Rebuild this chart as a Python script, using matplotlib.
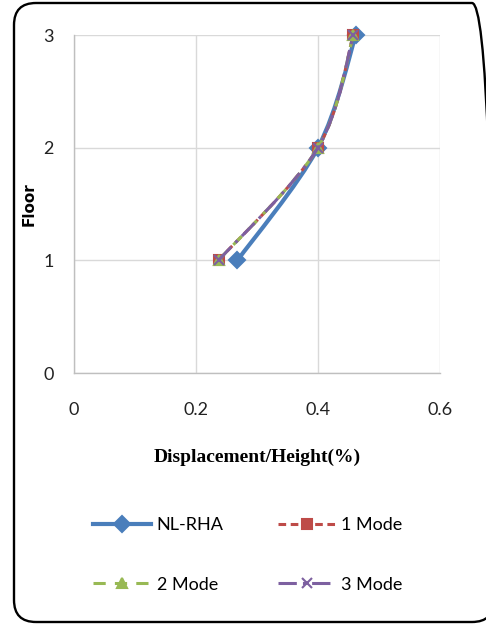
import matplotlib.pyplot as plt
import numpy as np
from matplotlib.path import Path
from matplotlib.patches import PathPatch, FancyBboxPatch
from matplotlib.lines import Line2D

# storey drift profiles, displacement/height (%) per floor
floors = [1, 2, 3]
nl_rha = [0.268, 0.400, 0.462]
mode1 = [0.237, 0.400, 0.458]
mode2 = [0.237, 0.400, 0.458]
mode3 = [0.237, 0.400, 0.458]

xticks = [0, 0.2, 0.4, 0.6]
yticks = [0, 1, 2, 3]

tickfont = 'Lato'


def smooth_path(xs, ys):
    # Catmull-Rom style cubic bezier through the points
    pts = np.column_stack([xs, ys])
    n = len(pts)
    verts = [pts[0]]
    codes = [Path.MOVETO]
    for i in range(n - 1):
        p0 = pts[max(i - 1, 0)]
        p1 = pts[i]
        p2 = pts[i + 1]
        p3 = pts[min(i + 2, n - 1)]
        c1 = p1 + (p2 - p0) / 6.0
        c2 = p2 - (p3 - p1) / 6.0
        verts += [c1, c2, p2]
        codes += [Path.CURVE4] * 3
    return Path(verts, codes)


fig = plt.figure(figsize=(4.86, 6.25), dpi=100)

# rounded frame round the whole chart (inch units), right side runs off the edge
frame = FancyBboxPatch((0.14, 0.03), 4.80, 6.19,
                       boxstyle='round,pad=0,rounding_size=0.22',
                       transform=fig.dpi_scale_trans, fill=False,
                       edgecolor='black', linewidth=1.7, clip_on=False)
fig.patches.append(frame)

ax = fig.add_axes([74 / 486, 1 - 373 / 625, 366 / 486, 338 / 625])

series = [
    (nl_rha, 'NL-RHA', '#4A7EBB', '-', 'D', 8.5, 3.0),
    (mode1, '1 Mode', '#BE4B48', (0, (2.5, 1.5)), 's', 7.5, 2.2),
    (mode2, '2 Mode', '#98B954', (0, (4, 3)), '^', 7.5, 2.2),
    (mode3, '3 Mode', '#7D60A0', (0, (6, 2, 1, 2)), 'x', 6.5, 2.2),
]

handles = {}
for i, (xs, label, col, ls, mk, ms, lw) in enumerate(series):
    patch = PathPatch(smooth_path(xs, floors), facecolor='none', edgecolor=col,
                      linewidth=lw, linestyle=ls, zorder=3 + i, capstyle='butt',
                      clip_on=False)
    ax.add_patch(patch)
    ax.plot(xs, floors, linestyle='None', marker=mk, markersize=ms,
            color=col, markeredgecolor=col, markeredgewidth=1.5, zorder=3 + i,
            clip_on=False)
    handles[label] = Line2D([], [], color=col, linestyle=ls, linewidth=lw,
                            marker=mk, markersize=ms, markeredgewidth=1.5,
                            label=label)

ax.set_xlim(0, 0.6)
ax.set_ylim(0, 3)
ax.set_xticks(xticks)
ax.set_yticks(yticks)
ax.set_xticklabels(['0', '0.2', '0.4', '0.6'])
ax.grid(True, color='#D9D9D9', linewidth=1.0)
ax.set_axisbelow(True)
for s in ['top', 'right']:
    ax.spines[s].set_visible(False)
for s in ['left', 'bottom']:
    ax.spines[s].set_color('#BFBFBF')
    ax.spines[s].set_linewidth(1.0)
ax.tick_params(axis='x', length=0, pad=21, labelsize=13, labelcolor='#222222')
ax.tick_params(axis='y', length=0, pad=14.5, labelsize=13, labelcolor='#222222')
for t in ax.get_xticklabels() + ax.get_yticklabels():
    t.set_fontfamily(tickfont)

ax.set_xlabel('Displacement/Height(%)', fontsize=14, fontweight='bold',
              family='Liberation Serif', labelpad=22)
ax.set_ylabel('Floor', fontsize=11, fontweight='bold', family='DejaVu Sans',
              labelpad=5)

# legend fills column-wise, so order to read row-wise
order = ['NL-RHA', '2 Mode', '1 Mode', '3 Mode']
fig.legend(handles=[handles[k] for k in order], ncol=2, loc='center',
           bbox_to_anchor=(0.51, 1 - 555 / 625),
           frameon=False, prop={'family': tickfont, 'size': 13},
           handlelength=3.2, handletextpad=0.3, columnspacing=3.0,
           labelspacing=2.4)

fig.savefig('out.png', dpi=100)
